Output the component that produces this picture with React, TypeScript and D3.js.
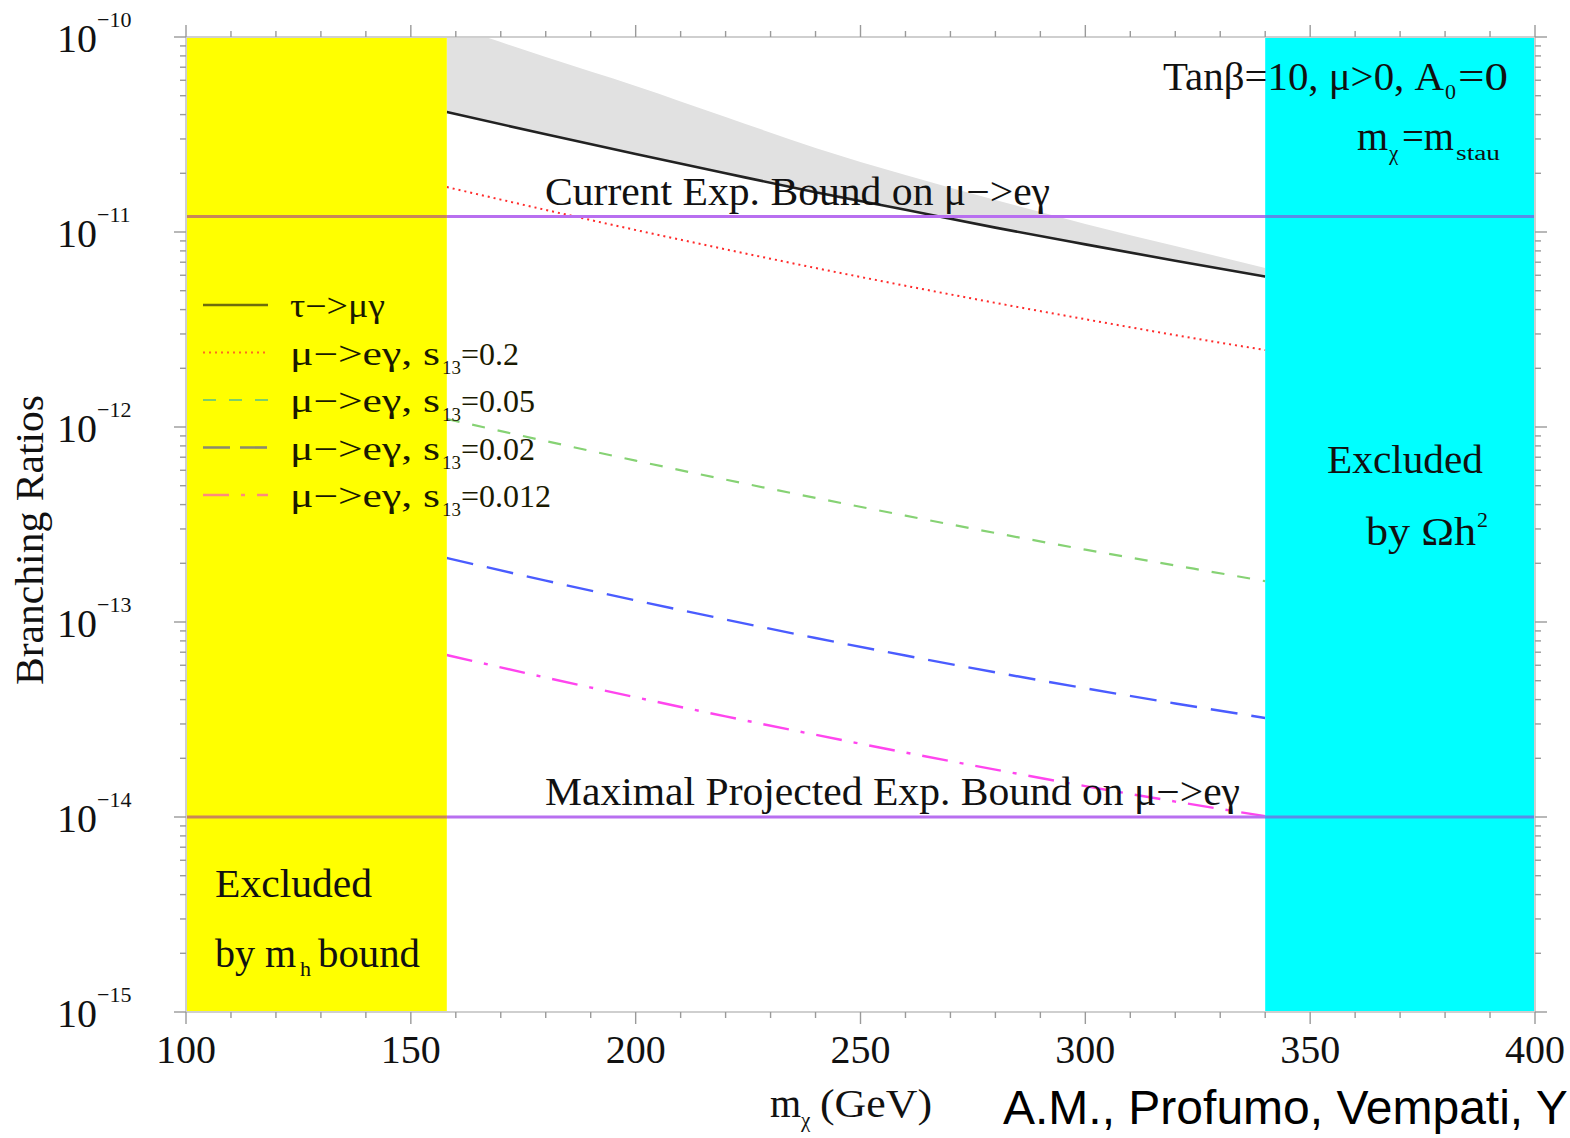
import React from "react";
import * as d3 from "d3";

// Neutralino mass grid (GeV) on which the branching ratios are tabulated
const massGrid = [158, 180, 200, 220, 240, 260, 280, 300, 320, 340];

// BR(tau -> mu gamma): lower edge (solid line) and upper edge of the shaded band
const tauMuGamma = [4.12e-11, 3.17e-11, 2.51e-11, 2.0e-11, 1.6e-11, 1.3e-11, 1.053e-11, 8.64e-12, 7.12e-12, 5.91e-12];
const tauMuGammaUpper = [1.166e-10, 7.9e-11, 5.61e-11, 3.89e-11, 2.7e-11, 1.96e-11, 1.46e-11, 1.1e-11, 8.48e-12, 6.54e-12];

// BR(mu -> e gamma) for several values of s13
const muEGammaS02 = [1.7e-11, 1.298e-11, 1.024e-11, 8.15e-12, 6.54e-12, 5.3e-12, 4.33e-12, 3.57e-12, 2.96e-12, 2.48e-12];
const muEGammaS005 = [1.099e-12, 8.47e-13, 6.72e-13, 5.37e-13, 4.33e-13, 3.51e-13, 2.86e-13, 2.35e-13, 1.95e-13, 1.62e-13];
const muEGammaS002 = [2.13e-13, 1.63e-13, 1.29e-13, 1.03e-13, 8.28e-14, 6.73e-14, 5.52e-14, 4.57e-14, 3.82e-14, 3.22e-14];
const muEGammaS0012 = [6.77e-14, 5.19e-14, 4.11e-14, 3.28e-14, 2.64e-14, 2.14e-14, 1.75e-14, 1.44e-14, 1.2e-14, 1.01e-14];

// Experimental bounds on mu -> e gamma
const currentBound = 1.2e-11;
const projectedBound = 1e-14;

// Excluded regions in m_chi (GeV)
const higgsExcludedMax = 158;
const relicExcludedMin = 340;

// Axes
const xDomain = [100, 400];
const yDomain = [1e-15, 1e-10];
const xTickValues = [100, 150, 200, 250, 300, 350, 400];
const yTickExponents = [-10, -11, -12, -13, -14, -15];

const legendValues = ["0.2", "0.05", "0.02", "0.012"];

const SERIF = "'Liberation Serif', 'Times New Roman', Times, serif";
const SANS = "'Liberation Sans', Arial, Helvetica, sans-serif";

const W = 1570;
const H = 1138;
const PL = 186;
const PR = 1535;
const PT = 37;
const PB = 1012;

export default function App() {
  const x = d3.scaleLinear().domain(xDomain).range([PL, PR]);
  const y = d3.scaleLog().domain(yDomain).range([PB, PT]);

  const line = d3
    .line<number>()
    .x((_, i) => x(massGrid[i]))
    .y((d) => y(d))
    .curve(d3.curveMonotoneX);

  const band = d3
    .area<number>()
    .x((_, i) => x(massGrid[i]))
    .y0((_, i) => y(tauMuGamma[i]))
    .y1((d) => y(d))
    .curve(d3.curveMonotoneX);

  const series = [
    { data: muEGammaS02, stroke: "#ff2a2a", width: 2, dash: "2,4" },
    { data: muEGammaS005, stroke: "#86d274", width: 2.2, dash: "13,13" },
    { data: muEGammaS002, stroke: "#4a5cff", width: 2.4, dash: "27,14" },
    { data: muEGammaS0012, stroke: "#ff45ee", width: 2.4, dash: "26,12,4,12" },
  ];

  const legendSamples = [
    { stroke: "#6e6d0c", width: 2.6, dash: "none" },
    { stroke: "#ff6a20", width: 2, dash: "2,4" },
    { stroke: "#7dcf69", width: 2.2, dash: "13,13" },
    { stroke: "#8b8a6e", width: 2.6, dash: "27,10" },
    { stroke: "#ff8a7c", width: 2.4, dash: "26,12,4,12" },
  ];

  const xMinor = d3.range(xDomain[0], xDomain[1] + 1, 10);
  const yAll = y.ticks(50).filter((v) => v >= yDomain[0] * 0.999 && v <= yDomain[1] * 1.001);
  const isMajor = (v: number) => Math.abs(Math.log10(v) - Math.round(Math.log10(v))) < 1e-6;

  const xH = x(higgsExcludedMax);
  const xR = x(relicExcludedMin);
  const yCur = y(currentBound);
  const yProj = y(projectedBound);

  return (
    <svg
      width={W}
      height={H}
      viewBox={`0 0 ${W} ${H}`}
      style={{ position: "absolute", left: 0, top: 0, background: "#fff" }}
      fontFamily={SERIF}
    >
      <defs>
        <clipPath id="plot-area">
          <rect x={PL} y={PT} width={PR - PL} height={PB - PT} />
        </clipPath>
      </defs>
      <rect x={0} y={0} width={W} height={H} fill="#fff" />

      {/* shaded tau -> mu gamma band and the curves */}
      <g clipPath="url(#plot-area)">
        <path d={band(tauMuGammaUpper) ?? ""} fill="#e1e1e1" stroke="none" />
        <path d={line(tauMuGamma) ?? ""} fill="none" stroke="#222" strokeWidth={2.6} />
        {series.map((s, i) => (
          <path
            key={i}
            d={line(s.data) ?? ""}
            fill="none"
            stroke={s.stroke}
            strokeWidth={s.width}
            strokeDasharray={s.dash}
          />
        ))}
      </g>

      {/* bound lines */}
      <line x1={PL} x2={PR} y1={yCur} y2={yCur} stroke="#b86ff0" strokeWidth={3} />
      <line x1={PL} x2={PR} y1={yProj} y2={yProj} stroke="#b86ff0" strokeWidth={3} />

      {/* excluded regions */}
      <rect x={PL} y={PT} width={xH - PL} height={PB - PT} fill="#ffff00" />
      <rect x={xR} y={PT} width={PR - xR} height={PB - PT} fill="#00ffff" />

      {/* bound lines seen through the excluded regions */}
      <line x1={PL} x2={xH} y1={yCur} y2={yCur} stroke="#c98658" strokeWidth={3} />
      <line x1={PL} x2={xH} y1={yProj} y2={yProj} stroke="#c98658" strokeWidth={3} />
      <line x1={xR} x2={PR} y1={yCur} y2={yCur} stroke="#5a8ce6" strokeWidth={3} />
      <line x1={xR} x2={PR} y1={yProj} y2={yProj} stroke="#5a8ce6" strokeWidth={3} />

      {/* frame */}
      <rect x={PL} y={PT} width={PR - PL} height={PB - PT} fill="none" stroke="#cfcfcf" strokeWidth={2} />

      {/* x ticks: outward on bottom and top */}
      {xMinor.map((v) => {
        const major = v % 50 === 0;
        const len = major ? 12 : 6;
        return (
          <g key={`xt${v}`} stroke="#9a9a9a" strokeWidth={1.4}>
            <line x1={x(v)} x2={x(v)} y1={PB} y2={PB + len} />
            <line x1={x(v)} x2={x(v)} y1={PT} y2={PT - len} />
          </g>
        );
      })}

      {/* y ticks: outward on left and right */}
      {yAll.map((v, i) => {
        const len = isMajor(v) ? 12 : 6;
        return (
          <g key={`yt${i}`} stroke="#9a9a9a" strokeWidth={1.4}>
            <line x1={PL} x2={PL - len} y1={y(v)} y2={y(v)} />
            <line x1={PR} x2={PR + len} y1={y(v)} y2={y(v)} />
          </g>
        );
      })}

      {/* x tick labels */}
      {xTickValues.map((v) => (
        <text key={`xl${v}`} x={x(v)} y={1063} fontSize={40} textAnchor="middle" fill="#111">
          {v}
        </text>
      ))}

      {/* y tick labels */}
      {yTickExponents.map((e) => {
        const ty = y(Math.pow(10, e));
        return (
          <g key={`yl${e}`} fill="#111">
            <text x={97} y={ty + 15} fontSize={40} textAnchor="end">
              10
            </text>
            <text x={97} y={ty - 10} fontSize={22}>
              {`−${Math.abs(e)}`}
            </text>
          </g>
        );
      })}

      {/* axis titles */}
      <text x={770} y={1117} fontSize={40} fill="#111">
        m
      </text>
      <text x={801} y={1127} fontSize={21} fill="#111">
        χ
      </text>
      <text x={820} y={1117} fontSize={40} fill="#111" textLength={112} lengthAdjust="spacingAndGlyphs">
        (GeV)
      </text>
      <text
        transform="translate(43,540) rotate(-90)"
        textAnchor="middle"
        fontSize={41}
        fill="#111"
        textLength={290}
        lengthAdjust="spacingAndGlyphs"
      >
        Branching Ratios
      </text>
      <text x={1003} y={1124} fontSize={48} fontFamily={SANS} fill="#000">
        A.M., Profumo, Vempati, Y
      </text>

      {/* legend */}
      {legendSamples.map((s, i) => {
        const ly = 305 + i * 47.5;
        return (
          <g key={`lg${i}`} fill="#1a1a00">
            <line
              x1={203}
              x2={268}
              y1={ly}
              y2={ly}
              stroke={s.stroke}
              strokeWidth={s.width}
              strokeDasharray={s.dash}
            />
            {i === 0 ? (
              <text x={290} y={ly + 12} fontSize={33} textLength={95} lengthAdjust="spacingAndGlyphs">
                τ−&gt;μγ
              </text>
            ) : (
              <>
                <text x={290} y={ly + 12} fontSize={33} textLength={150} lengthAdjust="spacingAndGlyphs">
                  μ−&gt;eγ, s
                </text>
                <text x={442} y={ly + 21} fontSize={19}>
                  13
                </text>
                <text x={461} y={ly + 12} fontSize={32}>
                  ={legendValues[i - 1]}
                </text>
              </>
            )}
          </g>
        );
      })}

      {/* annotations */}
      <text x={545} y={205} fontSize={40} fill="#111" textLength={505} lengthAdjust="spacingAndGlyphs">
        Current Exp. Bound on μ−&gt;eγ
      </text>
      <text x={545} y={805} fontSize={40} fill="#111" textLength={695} lengthAdjust="spacingAndGlyphs">
        Maximal Projected Exp. Bound on μ−&gt;eγ
      </text>

      <text x={1163} y={90} fontSize={40} fill="#111" textLength={281} lengthAdjust="spacingAndGlyphs">
        Tanβ=10, μ&gt;0, A
      </text>
      <text x={1445} y={99} fontSize={22} fill="#111">
        0
      </text>
      <text x={1458} y={90} fontSize={40} fill="#111" textLength={50} lengthAdjust="spacingAndGlyphs">
        =0
      </text>

      <text x={1357} y={150} fontSize={40} fill="#111">
        m
      </text>
      <text x={1389} y={160} fontSize={21} fill="#111">
        χ
      </text>
      <text x={1402} y={150} fontSize={40} fill="#111" textLength={52} lengthAdjust="spacingAndGlyphs">
        =m
      </text>
      <text x={1456} y={160} fontSize={20} fill="#111" textLength={44} lengthAdjust="spacingAndGlyphs">
        stau
      </text>

      <text x={1327} y={473} fontSize={40} fill="#111" textLength={156} lengthAdjust="spacingAndGlyphs">
        Excluded
      </text>
      <text x={1366} y={545} fontSize={40} fill="#111" textLength={110} lengthAdjust="spacingAndGlyphs">
        by Ωh
      </text>
      <text x={1477} y={527} fontSize={22} fill="#111">
        2
      </text>

      <text x={215} y={897} fontSize={40} fill="#111" textLength={157} lengthAdjust="spacingAndGlyphs">
        Excluded
      </text>
      <text x={215} y={967} fontSize={40} fill="#111">
        by m
      </text>
      <text x={300} y={976} fontSize={22} fill="#111">
        h
      </text>
      <text x={318} y={967} fontSize={40} fill="#111" textLength={102} lengthAdjust="spacingAndGlyphs">
        bound
      </text>
    </svg>
  );
}
